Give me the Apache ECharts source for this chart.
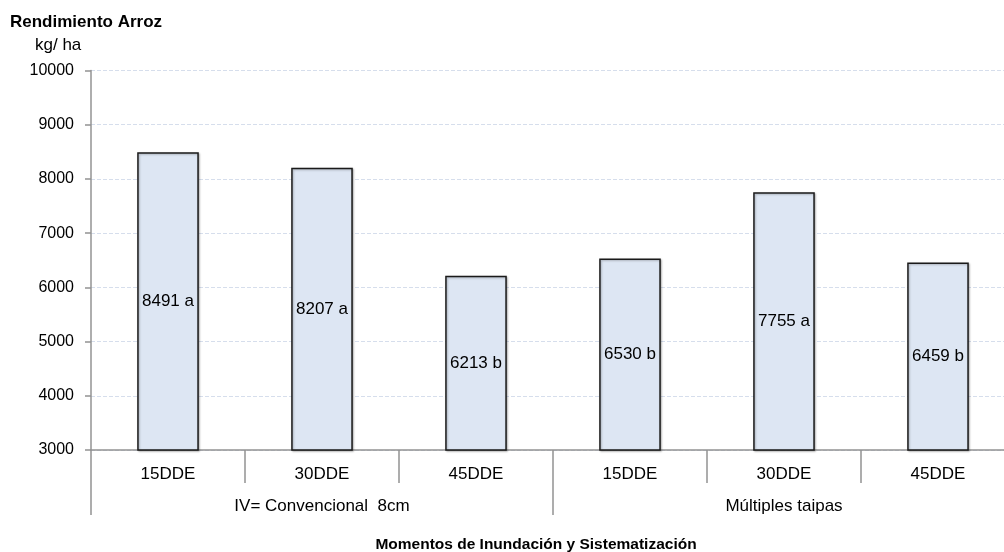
<!DOCTYPE html>
<html>
<head>
<meta charset="utf-8">
<script src="https://cdn.jsdelivr.net/npm/echarts@6/dist/echarts.min.js"></script>
<style>
  html, body { margin: 0; padding: 0; background: #fff; overflow: hidden; }
  /* the last category runs slightly past the right edge of the page */
  #chart { width: 1015px; height: 552px; }
</style>
</head>
<body>
<div id="chart"></div>
<script>
// Rice yield by flooding moment and field layout
const moments = ['15DDE', '30DDE', '45DDE', '15DDE', '30DDE', '45DDE'];
const systems = ['IV= Convencional  8cm', 'Múltiples taipas'];
const yieldKgHa = [8491, 8207, 6213, 6530, 7755, 6459];
const letters = ['a', 'a', 'b', 'b', 'a', 'b'];
const yTicks = [3000, 4000, 5000, 6000, 7000, 8000, 9000, 10000];

const FONT = '"Liberation Sans", Arial, sans-serif';
const chart = echarts.init(document.getElementById('chart'), null, { renderer: 'canvas' });

chart.setOption({
  animation: false,
  backgroundColor: '#ffffff',
  textStyle: { fontFamily: FONT },
  title: [
    { text: 'Rendimiento Arroz', left: 10, top: 14, padding: 0,
      textStyle: { fontFamily: FONT, fontSize: 17, fontWeight: 'bold', color: '#000' } },
    { text: 'kg/ ha', left: 35, top: 37, padding: 0,
      textStyle: { fontFamily: FONT, fontSize: 17, fontWeight: 'normal', color: '#000' } },
    { text: 'Momentos de Inundación y Sistematización', left: 536, textAlign: 'center', top: 537, padding: 0,
      textStyle: { fontFamily: FONT, fontSize: 15.5, fontWeight: 'bold', color: '#000' } }
  ],
  grid: { left: 91, right: 0, top: 70.5, bottom: 102, containLabel: false },
  xAxis: [
    {
      type: 'category',
      data: moments,
      position: 'bottom',
      boundaryGap: true,
      axisLine: { show: true, lineStyle: { color: '#939393', width: 1.5 } },
      axisTick: { show: true, alignWithLabel: false, length: 33, lineStyle: { color: '#939393', width: 1.5 } },
      axisLabel: { margin: 16, fontSize: 17, color: '#000', fontFamily: FONT, interval: 0 },
      splitLine: { show: false }
    },
    {
      type: 'category',
      data: systems,
      position: 'bottom',
      boundaryGap: true,
      axisLine: { show: false },
      axisTick: { show: true, alignWithLabel: false, length: 65, lineStyle: { color: '#939393', width: 1.5 } },
      axisLabel: { margin: 48, fontSize: 17, color: '#000', fontFamily: FONT, interval: 0 },
      splitLine: { show: false }
    }
  ],
  yAxis: {
    type: 'value',
    min: yTicks[0],
    max: yTicks[yTicks.length - 1],
    interval: 1000,
    axisLine: { show: true, lineStyle: { color: '#939393', width: 1.5 } },
    axisTick: { show: true, length: 6, lineStyle: { color: '#939393', width: 1.5 } },
    axisLabel: { margin: 17, fontSize: 16, color: '#000', fontFamily: FONT, formatter: v => String(v) },
    splitLine: { show: true, lineStyle: { color: '#d6deec', type: [4, 2], width: 1 } }
  },
  series: [{
    type: 'bar',
    xAxisIndex: 0,
    barWidth: '40%',
    data: yieldKgHa,
    itemStyle: {
      color: '#dde6f3',
      borderColor: '#1a1a1a',
      borderWidth: 1.5,
      shadowColor: 'rgba(0,0,0,0.25)',
      shadowBlur: 2,
      shadowOffsetX: 1,
      shadowOffsetY: 1
    },
    label: {
      show: true,
      position: 'inside',
      fontSize: 17,
      color: '#000',
      fontFamily: FONT,
      formatter: p => p.value + ' ' + letters[p.dataIndex]
    }
  }]
});
</script>
</body>
</html>
